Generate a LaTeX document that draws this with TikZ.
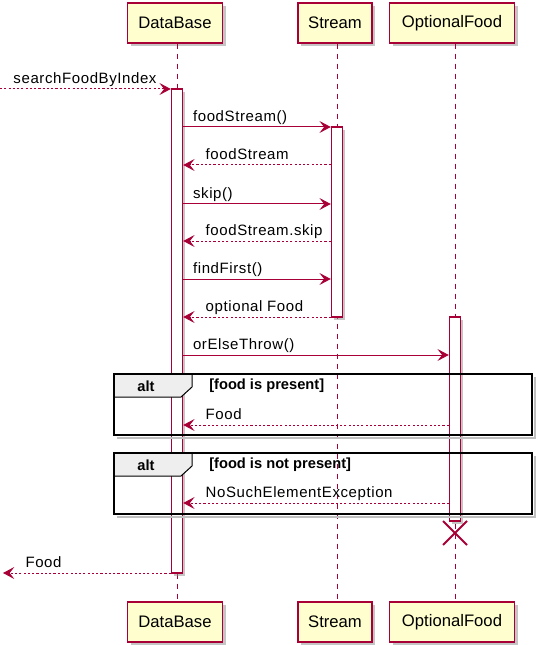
\documentclass[tikz,border=0pt]{standalone}
\usepackage{fontspec}
\setmainfont{Liberation Sans}
\newfontfamily\msgfont[LetterSpace=4]{Liberation Sans}
\usetikzlibrary{arrows.meta,fit,shadows,shapes.misc}
\definecolor{umlred}{HTML}{A80036}
\definecolor{umlfill}{HTML}{FEFECE}
\definecolor{altgray}{HTML}{EEEEEE}

\begin{document}
\begin{tikzpicture}[x=0.75pt,y=-0.75pt,
    part/.style={draw=umlred, fill=umlfill, line width=1.1pt, minimum height=30pt,
      inner xsep=0pt, font=\fontsize{12.5}{15}\selectfont,
      drop shadow={shadow xshift=2.5pt, shadow yshift=-2.5pt, opacity=0.5, fill=black!45}},
    life/.style={draw=umlred, line width=0.75pt, dash pattern=on 3.75pt off 3.75pt},
    act/.style={draw=umlred, fill=white, line width=1.1pt, inner sep=0pt,
      drop shadow={shadow xshift=2pt, shadow yshift=-2pt, opacity=0.5, fill=black!45}},
    call/.style={draw=umlred, line width=0.75pt,
      -{Stealth[length=8.5pt, width=9pt, inset=3.5pt]}},
    ret/.style={call, dash pattern=on 1.6pt off 1.6pt},
    lbl/.style={anchor=base west, inner sep=0pt, yshift=4pt,
      font=\msgfont\fontsize{11.25}{13}\selectfont},
    frame/.style={draw=black, line width=2pt},
    frameshade/.style={draw=black!25, line width=2pt},
    tabshape/.style={draw=black, fill=altgray, line width=0.75pt},
    altlbl/.style={inner sep=0pt, font=\bfseries\fontsize{11}{13}\selectfont},
    kill/.style={cross out, draw=umlred, line width=1.5pt, minimum size=16.5pt}]
  \useasboundingbox (0,0) rectangle (544,645);

  % participants
  \node[part, minimum width=71.25pt] (dbTop) at (175,23) {DataBase};
  \node[part, minimum width=55.5pt] (stTop) at (335,23) {Stream};
  \node[part, minimum width=93.75pt] (ofTop) at (452,23) {OptionalFood};
  \node[part, minimum width=71.25pt] (dbBot) at (175,622) {DataBase};
  \node[part, minimum width=55.5pt] (stBot) at (335,622) {Stream};
  \node[part, minimum width=93.75pt] (ofBot) at (452,622) {OptionalFood};

  % lifelines
  \coordinate (dbX) at (177,0);
  \coordinate (stX) at (337,0);
  \coordinate (ofX) at (455,0);
  \draw[life] (dbTop.south -| dbX) -- (dbBot.north -| dbX);
  \draw[life] (stTop.south -| stX) -- (stBot.north -| stX);
  \draw[life] (ofTop.south -| ofX) -- (ofBot.north -| ofX);

  % activations
  \node[act, fit={(171.5,89) (182.5,573)}] (dbAct) {};
  \node[act, fit={(331.5,127) (342.5,317)}] (stAct) {};
  \node[act, fit={(449.5,317) (460.5,521)}] (ofAct) {};
  \node[kill] (ofEnd) at (455,533) {};

  % free ends
  \coordinate (inEnd) at (0,89);
  \coordinate (outEnd) at (3,573);

  % messages
  \draw[ret] (inEnd) -- (dbAct.west |- 0,89)
    node[lbl, at start, xshift=9.75pt] {searchFoodByIndex};
  \draw[call] (dbAct.east |- 0,127) -- (stAct.west |- 0,127)
    node[lbl, at start, xshift=7pt] {foodStream()};
  \draw[ret] (stAct.west |- 0,165) -- (dbAct.east |- 0,165)
    node[lbl, at end, xshift=16.5pt] {foodStream};
  \draw[call] (dbAct.east |- 0,204) -- (stAct.west |- 0,204)
    node[lbl, at start, xshift=7pt] {skip()};
  \draw[ret] (stAct.west |- 0,241) -- (dbAct.east |- 0,241)
    node[lbl, at end, xshift=16.5pt] {foodStream.skip};
  \draw[call] (dbAct.east |- 0,279) -- (stAct.west |- 0,279)
    node[lbl, at start, xshift=7pt] {findFirst()};
  \draw[ret] (stAct.west |- 0,317) -- (dbAct.east |- 0,317)
    node[lbl, at end, xshift=16.5pt] {optional Food};
  \draw[call] (dbAct.east |- 0,355) -- (ofAct.west |- 0,355)
    node[lbl, at start, xshift=7pt] {orElseThrow()};

  % alt: food is present
  \draw[frameshade] (535,377) |- (117,438);
  \draw[tabshape] (114,374) -- (192,374) -- (192,387) -- (181,397) -- (114,397) -- cycle;
  \draw[frame] (114,374) rectangle (532,435);
  \node[altlbl] (alt1) at (146,386) {alt};
  \node[altlbl, anchor=west] (cond1) at (209,386) {[food is present]};
  \draw[ret] (ofAct.west |- 0,425) -- (dbAct.east |- 0,425)
    node[lbl, at end, xshift=16.5pt] {Food};

  % alt: food is not present
  \draw[frameshade] (535,456) |- (117,517);
  \draw[tabshape] (114,453) -- (192,453) -- (192,466) -- (181,476) -- (114,476) -- cycle;
  \draw[frame] (114,453) rectangle (532,514);
  \node[altlbl] (alt2) at (146,465) {alt};
  \node[altlbl, anchor=west] (cond2) at (209,465) {[food is not present]};
  \draw[ret] (ofAct.west |- 0,503) -- (dbAct.east |- 0,503)
    node[lbl, at end, xshift=16.5pt] {NoSuchElementException};

  \draw[ret] (dbAct.west |- 0,573) -- (outEnd)
    node[lbl, at end, xshift=16.5pt] {Food};
\end{tikzpicture}
\end{document}
